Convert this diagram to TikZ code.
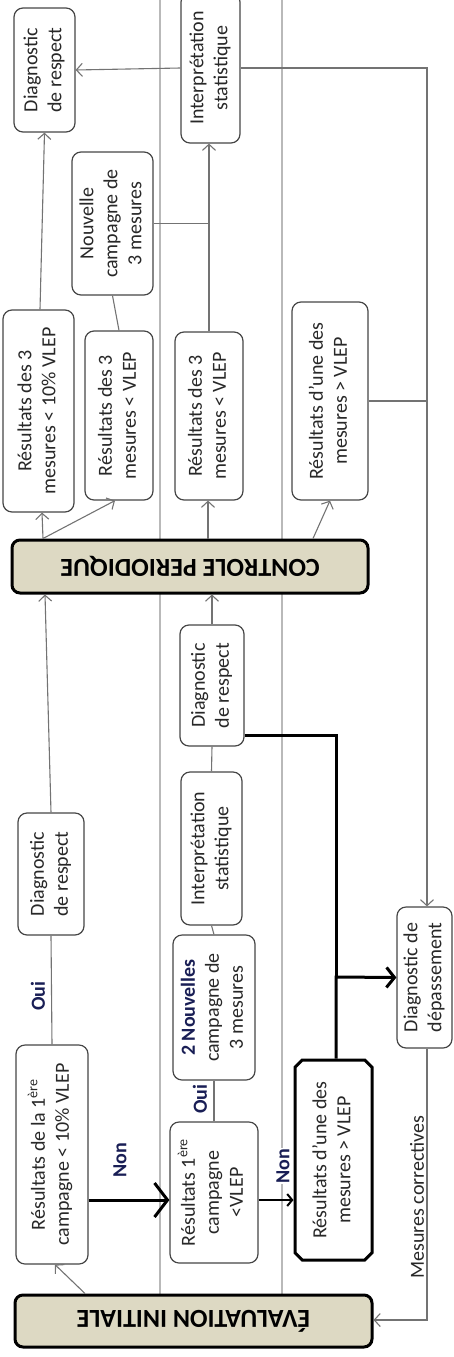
\documentclass[tikz,border=0pt]{standalone}
\usepackage{fontspec}
\setmainfont{Carlito}
\usetikzlibrary{arrows.meta,shapes.misc}
\definecolor{hdr}{RGB}{221,217,195}
\definecolor{bord}{RGB}{70,70,70}
\definecolor{conn}{RGB}{115,115,115}
\definecolor{sepc}{RGB}{185,185,185}
\definecolor{lab}{RGB}{25,30,85}
\definecolor{txt}{RGB}{40,40,40}
\newcommand{\vtext}[1]{\rotatebox{90}{\begin{tabular}{@{}c@{}}#1\end{tabular}}}
\begin{document}
\begin{tikzpicture}[x=1pt,y=-1pt,
  box/.style={draw=bord, line width=1.2pt, rounded corners=9pt, fill=white, inner sep=0pt, text=txt, font=\fontsize{20}{24}\selectfont},
  hdrbox/.style={draw=black, line width=3pt, rounded corners=8pt, fill=hdr, inner sep=0pt, font=\fontsize{26}{30}\selectfont\bfseries},
  conn/.style={draw=conn, line width=1.1pt},
  arr/.style={conn, -{Straight Barb[length=6pt,width=13pt]}},
  sepline/.style={draw=sepc, line width=1.2pt},
  bigarr/.style={draw=black, line width=3pt, -{Straight Barb[length=13pt,width=34pt]}},
  medarr/.style={draw=black, line width=2pt, -{Straight Barb[length=5pt,width=12pt]}},
  thk/.style={draw=black, line width=3pt},
  thkarr/.style={draw=black, line width=3pt, -{Straight Barb[length=8pt,width=20pt]}},
  lbl/.style={font=\fontsize{20}{24}\selectfont\bfseries, text=lab, rotate=90, inner sep=1pt, fill=white},
  plainlbl/.style={font=\fontsize{20}{24}\selectfont, text=txt, rotate=90, inner sep=1pt}
]
\useasboundingbox (0,0) rectangle (454,1357);
% separators
\draw[sepline] (160,0) -- (160,1295);
\draw[sepline] (282,0) -- (282,1295);

% headers
\node[hdrbox, minimum width=357pt, minimum height=52pt] (ei) at (193.5,1321) {\rotatebox{180}{ÉVALUATION INITIALE}};
\node[hdrbox, minimum width=356pt, minimum height=53pt] (cp) at (190,566.5) {\rotatebox{180}{CONTROLE PERIODIQUE}};

% boxes
\node[box, minimum width=72pt, minimum height=219pt] (r1) at (52,1154.5) {\vtext{Résultats de la 1\textsuperscript{ère}\\campagne < 10\% VLEP}};
\node[box, minimum width=66pt, minimum height=122pt] (d1) at (51,874) {\vtext{Diagnostic\\de respect}};
\node[box, minimum width=71pt, minimum height=202pt] (r3a) at (38.5,411) {\vtext{Résultats des 3\\mesures < 10\% VLEP}};
\node[box, minimum width=61pt, minimum height=124pt] (d2) at (44.5,70) {\vtext{Diagnostic\\de respect}};
\node[box, minimum width=81pt, minimum height=143pt] (nc) at (112.5,223.5) {\vtext{Nouvelle\\campagne de\\3 mesures}};
\node[box, minimum width=68pt, minimum height=169pt] (r3b) at (119,415.5) {\vtext{Résultats des 3\\mesures < VLEP}};
\node[box, minimum width=59pt, minimum height=150pt] (is1) at (210.5,68) {\vtext{Interprétation\\statistique}};
\node[box, minimum width=68pt, minimum height=168pt] (r3c) at (209,416) {\vtext{Résultats des 3\\mesures < VLEP}};
\node[box, minimum width=76pt, minimum height=198pt] (ru1) at (330,401) {\vtext{Résultats d'une des\\mesures > VLEP}};
\node[box, minimum width=64pt, minimum height=121pt] (d3) at (212,685.5) {\vtext{Diagnostic\\de respect}};
\node[box, minimum width=61pt, minimum height=153pt] (is2) at (211.5,848.5) {\vtext{Interprétation\\statistique}};
\node[box, minimum width=82pt, minimum height=145pt] (nc2) at (214,1007.5) {\vtext{\textbf{\color{lab}2 Nouvelles}\\campagne de\\3 mesures}};
\node[box, minimum width=88pt, minimum height=141pt] (r1b) at (214,1192.5) {\vtext{Résultats 1\textsuperscript{ère}\\campagne\\<VLEP}};
\node[box, rounded corners=0pt, chamfered rectangle, chamfered rectangle xsep=4pt, draw=black, line width=3pt, minimum width=77pt, minimum height=200pt] (ru2) at (333.5,1160) {\vtext{Résultats d'une des\\mesures > VLEP}};
\node[box, minimum width=55pt, minimum height=141pt] (dd) at (424.5,977.5) {\vtext{Diagnostic de\\dépassement}};

% connectors
\coordinate (xr) at (427,0);
\coordinate (J) at (336,977);
\draw[arr] (ei.north -| 85,0) -- (r1.south -| 55,0);
\draw[conn] (r1.north) -- (d1.south);
\node[lbl] (oui1) at (38,996) {Oui};
\draw[arr] (d1.north) -- (cp.south -| 45,0);
\draw[arr] (cp.north -| 43,0) -- (r3a.south -| 42,0);
\draw[arr] (cp.north -| 43,0) -- (r3b.south -| 115,0);
\draw[arr] (r3a.north -| 40,0) -- (d2.south);
\draw[conn] (nc.south) -- (r3b.north);
\draw[arr] (cp.north -| 208,0) -- (r3c.south -| 208,0);
\draw[arr] (cp.north -| 313,0) -- (ru1.south -| 330,0);
\draw[arr] (r3c.north) -- (r3c.north |- is1.south);
\draw[conn] (nc.east) -- (nc.east -| r3c.north);
\draw[arr] (is1.west) -- (d2.east);
\draw[arr] (is1.east) -- (is1.east -| xr) -- (xr |- dd.north);
\draw[conn] (ru1.east) -- (ru1.east -| xr);
\draw[arr] (d3.north) -- (d3.north |- cp.south);
\draw[conn] (is2.north) -- (d3.south);
\draw[conn] (nc2.north) -- (is2.south);
\draw[conn] (r1b.north) -- (nc2.south);
\node[lbl] (oui2) at (200,1099) {Oui};
\draw[bigarr] (r1.east |- 0,1200) -- (r1b.west |- 0,1200);
\node[lbl] (non1) at (120,1160) {Non};
\draw[medarr] (r1b.east |- 0,1200) -- (ru2.west |- 0,1200);
\node[lbl] (non2) at (283,1166) {Non};
\draw[thk, line join=miter] (d3.east |- 0,735) -| (J);
\draw[thkarr] (ru2.north -| J) -- (J) -- (dd.west);
\draw[arr] (dd.south -| xr) -- (xr |- 0,1320) -- (ei.east |- 0,1320);
\node[plainlbl] (mc) at (417,1197) {Mesures correctives};
\end{tikzpicture}
\end{document}
